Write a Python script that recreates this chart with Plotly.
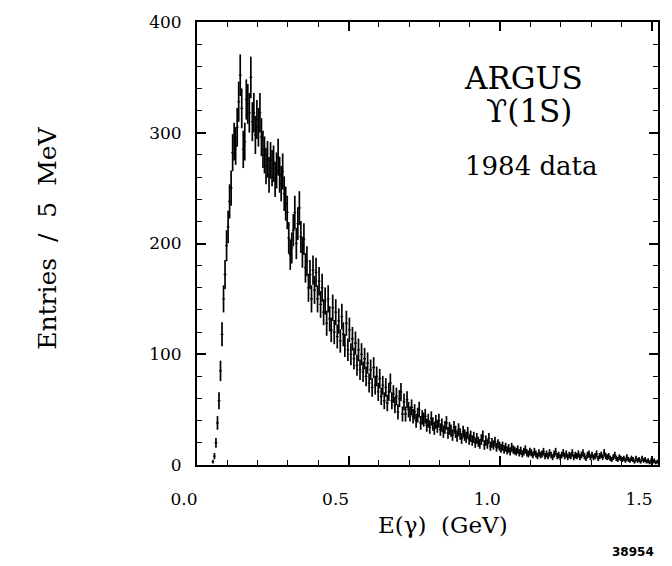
import plotly.graph_objects as go

# Photon energy spectrum, 5 MeV bins starting at 50 MeV
BIN_LOW = 0.050     # GeV, lower edge of the first bin
BIN_WIDTH = 0.005   # GeV

# Entries per bin, grouped by region of the spectrum
counts_rise = [3, 8, 20, 38, 58, 85, 118, 150, 172, 198]

counts_peak = [
    215, 238, 250, 282, 292, 288, 305, 328, 352, 322,
    285, 292, 330, 326, 318, 350, 310, 318, 298, 312,
    305, 318, 296, 285, 280, 270, 276, 262, 275, 268,
    272, 258, 266, 278, 262, 254, 265, 245, 236, 228,
]

counts_fall = [
    205, 190, 196, 212, 228, 200, 218, 232, 206, 192,
    204, 178, 184, 160, 172, 150, 176, 158, 174, 150,
    166, 145, 160, 138, 148, 128, 150, 132, 122, 142,
    120, 138, 116, 130, 112, 134, 118, 108, 128, 104,
    122, 100, 114, 96, 110, 90, 104, 86, 100, 84,
    96, 80, 92, 74, 86, 70, 88, 72, 80, 66,
    78, 62, 72, 58, 70, 56, 66, 74, 58, 64,
    54, 62, 48, 60, 66, 46, 57, 46, 59, 50,
]

counts_tail = [
    46, 52, 44, 48, 40, 45, 50, 38, 43, 41,
    44, 36, 40, 34, 42, 37, 33, 39, 35, 40,
    32, 36, 30, 34, 38, 29, 33, 31, 27, 34,
    30, 26, 32, 28, 24, 30, 27, 25, 29, 23,
    26, 22, 25, 20, 24, 21, 19, 23, 26, 18,
    22, 19, 24, 17, 20, 18, 21, 16, 19, 17,
    15, 17, 14, 16, 13, 15, 12, 16, 14, 13,
    12, 14, 11, 13, 10, 12, 14, 11, 10, 12,
    11, 9, 12, 10, 8, 11, 9, 10, 12, 8,
    10, 8, 11, 9, 7, 10, 12, 8, 9, 7,
    9, 11, 8, 10, 7, 9, 8, 11, 7, 9,
    8, 10, 7, 9, 11, 8, 6, 9, 10, 7,
    9, 7, 8, 10, 6, 8, 9, 7, 11, 8,
    7, 8, 6, 5, 7, 9, 6, 5, 7, 6,
    5, 6, 4, 7, 5, 4, 6, 5, 3, 6,
    4, 5, 3, 6, 4, 5, 3, 4, 2, 4,
    3, 4, 2, 3,
]

counts = counts_rise + counts_peak + counts_fall + counts_tail

x_tickvals = [0.0, 0.5, 1.0, 1.5]
x_ticktext = ["0.0", "0.5", "1.0", "1.5"]
y_tickvals = [0, 100, 200, 300, 400]

SERIF = "DejaVu Serif"

fig = go.Figure(
    go.Scatter(
        x0=BIN_LOW + BIN_WIDTH / 2,
        dx=BIN_WIDTH,
        y=counts,
        mode="markers",
        marker=dict(symbol="line-ew", size=2, color="black",
                    line=dict(width=1.2, color="black")),
        error_y=dict(type="sqrt", color="black", thickness=1.7, width=0),
        showlegend=False,
    )
)

axis_common = dict(
    showgrid=False,
    zeroline=False,
    showline=True,
    linecolor="black",
    linewidth=2,
    mirror="ticks",
    ticks="inside",
    ticklen=9,
    tickwidth=1.5,
    tickcolor="black",
    tickfont=dict(family=SERIF, size=17, color="black"),
)

fig.update_xaxes(
    range=[0, 1.52],
    tickmode="array",
    tickvals=x_tickvals,
    ticktext=x_ticktext,
    ticklabelshift=-13,
    ticklabelstandoff=18,
    minor=dict(tick0=0, dtick=0.1, ticks="inside", ticklen=5,
               tickwidth=1, tickcolor="black", showgrid=False),
    **axis_common,
)

fig.update_yaxes(
    range=[0, 400],
    tickmode="array",
    tickvals=y_tickvals,
    ticklabelstandoff=10,
    minor=dict(tick0=0, dtick=20, ticks="inside", ticklen=5,
               tickwidth=1, tickcolor="black", showgrid=False),
    **axis_common,
)

text_font = dict(family=SERIF, color="black")

fig.update_layout(
    width=672,
    height=566,
    margin=dict(l=197, r=12, t=17, b=101),
    paper_bgcolor="white",
    plot_bgcolor="white",
    annotations=[
        dict(text="ARGUS", x=1.077, y=349, xref="x", yref="y",
             showarrow=False, font=dict(size=31, **text_font)),
        dict(text="ϒ(1S)", x=1.094, y=320, xref="x", yref="y",
             showarrow=False, font=dict(size=31, **text_font)),
        dict(text="1984 data", x=1.104, y=270, xref="x", yref="y",
             showarrow=False, font=dict(size=26, **text_font)),
        dict(text="Entries\u00a0\u00a0/\u00a0\u00a05\u00a0\u00a0MeV",
             x=-0.3607, y=0.511, xref="paper", yref="paper",
             textangle=-90, showarrow=False,
             font=dict(size=25, **text_font)),
        dict(text="E(γ)\u00a0\u00a0(GeV)", x=0.5335, y=-0.1696,
             xref="paper", yref="paper", showarrow=False,
             font=dict(size=23, **text_font)),
        dict(text="<b>38954</b>", x=0.995, y=-0.2165, xref="paper",
             yref="paper", xanchor="right", yanchor="bottom",
             showarrow=False,
             font=dict(family="DejaVu Sans", size=12, color="black")),
    ],
)

fig.write_html("out.html")
